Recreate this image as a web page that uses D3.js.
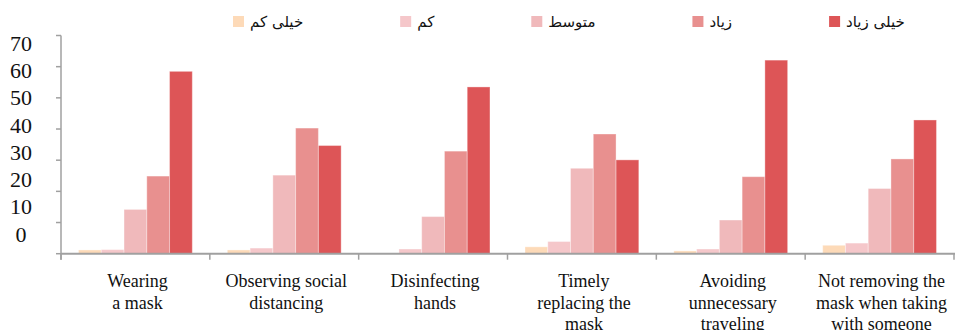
<!DOCTYPE html>
<html lang="en">
<head>
<meta charset="UTF-8">
<title>Protective behaviours</title>
<script src="https://d3js.org/d3.v7.min.js"></script>
<style>
  body { margin: 0; background: #fff; }
  .cat-label { font-family: "Liberation Serif", "Times New Roman", Times, "DejaVu Serif", serif; font-size: 18px; fill: #111; }
  .y-label { font-family: "Liberation Serif", "Times New Roman", Times, "DejaVu Serif", serif; font-size: 22px; fill: #111; }
  .legend-text { font-family: "DejaVu Sans", sans-serif; font-size: 15px; fill: #111; }
</style>
</head>
<body>
<div id="chart"></div>
<script>
// categories (each one is split into the lines shown under the axis)
const categories = [
  ["Wearing", "a mask"],
  ["Observing social", "distancing"],
  ["Disinfecting", "hands"],
  ["Timely", "replacing the", "mask"],
  ["Avoiding", "unnecessary", "traveling"],
  ["Not removing the", "mask when taking", "with someone"]
];
const seriesNames = ["خیلی کم", "کم", "متوسط", "زیاد", "خیلی زیاد"];
const seriesColors = ["#FDDAB8", "#F5C7CA", "#F0B9BB", "#E8908F", "#DD5557"];

// percentages, one array per category in series order
const values = [
  [1.2, 1.3, 14.2, 24.9, 58.5],
  [1.2, 1.8, 25.2, 40.3, 34.7],
  [0.0, 1.5, 11.9, 32.9, 53.5],
  [2.2, 3.9, 27.4, 38.4, 30.1],
  [0.9, 1.5, 10.8, 24.7, 62.1],
  [2.7, 3.4, 20.9, 30.4, 42.9]
];
const yTicks = [0, 10, 20, 30, 40, 50, 60, 70];

const width = 957, height = 330;
const left = 61, right = 954, zeroY = 253.7, topY = 35.5;

const svg = d3.select("#chart").append("svg")
  .attr("width", width)
  .attr("height", height);

const x = d3.scaleBand()
  .domain(d3.range(categories.length))
  .range([left, right])
  .padding(0);

const xs = d3.scaleBand()
  .domain(d3.range(seriesNames.length))
  .range([0, x.bandwidth()])
  .paddingInner(0)
  .paddingOuter(0.77);

const y = d3.scaleLinear().domain([0, 70]).range([zeroY, topY]);
// tick labels in the original sit on their own (slightly squeezed) scale
const yLab = d3.scaleLinear().domain([0, 70]).range([234, 43]);

// bars
const groups = svg.append("g").selectAll("g")
  .data(values)
  .join("g")
  .attr("transform", (d, i) => `translate(${x(i)},0)`);

groups.selectAll("rect")
  .data(d => d)
  .join("rect")
  .attr("x", (d, j) => xs(j))
  .attr("width", xs.bandwidth())
  .attr("y", d => y(d))
  .attr("height", d => zeroY - y(d))
  .attr("fill", (d, j) => seriesColors[j])
  .attr("stroke", "rgba(255,255,255,0.35)")
  .attr("stroke-width", 1);

// y axis line + ticks
const yAxis = svg.append("g").attr("transform", `translate(${left},0)`);
yAxis.append("line")
  .attr("x1", 0).attr("x2", 0)
  .attr("y1", y(70)).attr("y2", zeroY + 6)
  .attr("stroke", "#a0a0a0").attr("stroke-width", 1.5);
yAxis.selectAll(".tk")
  .data(yTicks)
  .join("line")
  .attr("x1", -5).attr("x2", 0)
  .attr("y1", d => y(d)).attr("y2", d => y(d))
  .attr("stroke", "#a0a0a0").attr("stroke-width", 1.5);

svg.append("g").selectAll("text")
  .data(yTicks)
  .join("text")
  .attr("class", "y-label")
  .attr("x", 21)
  .attr("y", d => yLab(d))
  .attr("dy", "0.35em")
  .attr("text-anchor", "middle")
  .text(d => d);

// x axis line + category dividers
const xAxis = svg.append("g");
xAxis.append("line")
  .attr("x1", left).attr("x2", right + 1)
  .attr("y1", zeroY).attr("y2", zeroY)
  .attr("stroke", "#a0a0a0").attr("stroke-width", 2);
xAxis.selectAll(".div")
  .data(d3.range(categories.length + 1))
  .join("line")
  .attr("x1", i => left + i * x.step())
  .attr("x2", i => left + i * x.step())
  .attr("y1", zeroY).attr("y2", zeroY + 6)
  .attr("stroke", "#a0a0a0").attr("stroke-width", 1.5);

// category labels
const labels = svg.append("g").selectAll("text")
  .data(categories)
  .join("text")
  .attr("class", "cat-label")
  .attr("text-anchor", "middle")
  .attr("x", (d, i) => x(i) + x.bandwidth() / 2 + 2)
  .attr("y", 287);

labels.selectAll("tspan")
  .data(d => d)
  .join("tspan")
  .attr("x", function() { return d3.select(this.parentNode).attr("x"); })
  .attr("dy", (d, k) => k === 0 ? 0 : 21.5)
  .text(d => d);

// legend: square then text, flowing left to right
const legend = svg.append("g").attr("transform", "translate(233,0)");
let cursor = 0;
seriesNames.forEach((name, j) => {
  const item = legend.append("g").attr("transform", `translate(${cursor},0)`);
  item.append("rect")
    .attr("x", 0).attr("y", 16)
    .attr("width", 11).attr("height", 11)
    .attr("fill", seriesColors[j]);
  const t = item.append("text")
    .attr("class", "legend-text")
    .attr("x", 17)
    .attr("y", 21.5)
    .attr("dy", "0.35em")
    .attr("direction", "rtl")
    .attr("text-anchor", "end")
    .text(name);
  const w = t.node().getComputedTextLength();
  cursor += 17 + w + 97;
});
</script>
</body>
</html>
